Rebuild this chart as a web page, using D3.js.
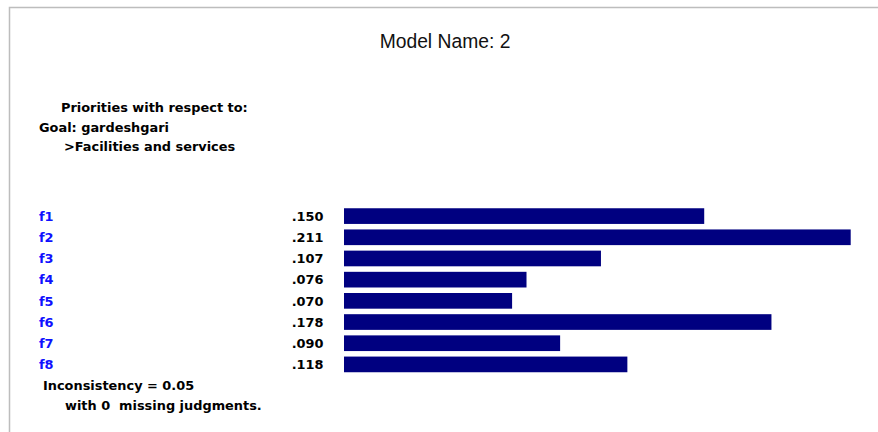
<!DOCTYPE html>
<html><head><meta charset="utf-8">
<script src="https://cdn.jsdelivr.net/npm/d3@7"></script>
<style>body{margin:0;background:#fff}svg{display:block}</style>
</head><body>
<script>
const categories = ["f1","f2","f3","f4","f5","f6","f7","f8"];
const values = [0.150,0.211,0.107,0.076,0.070,0.178,0.090,0.118];
const valueLabels = [".150",".211",".107",".076",".070",".178",".090",".118"];
const title = "Model Name: 2";
const headerLines = ["Priorities with respect to:","Goal: gardeshgari",">Facilities and services"];
const footerLines = ["Inconsistency = 0.05","with 0  missing judgments."];

const W=878,H=432;
const svg=d3.select("body").append("svg").attr("width",W).attr("height",H);
svg.append("path").attr("d",`M9.5,${H}V7.5H${W}`).attr("fill","none").attr("stroke","#bdbdbd").attr("stroke-width",1.5);

svg.append("text").attr("x",445).attr("y",48).attr("text-anchor","middle")
  .attr("font-family","Liberation Sans, Arial, sans-serif").attr("font-size",19.3).attr("fill","#111").text(title);

const bf="DejaVu Sans, sans-serif";
const fs=12.9;
const hx=[61,39,64], hy=[111.5,131.5,150.5];
headerLines.forEach((t,i)=>svg.append("text").attr("x",hx[i]).attr("y",hy[i]).attr("font-family",bf).attr("font-weight","bold").attr("font-size",fs).attr("fill","#000").text(t));

const x=d3.scaleLinear().domain([0,0.211]).range([344,850.7]);
const y=d3.scaleBand().domain(categories).range([205.5,375]).paddingInner(0.26).paddingOuter(0.13);

const g=svg.append("g");
g.selectAll("rect").data(categories).join("rect")
  .attr("x",x(0)).attr("y",d=>y(d)).attr("width",(d,i)=>x(values[i])-x(0)).attr("height",y.bandwidth())
  .attr("fill","#000080");
g.selectAll("text.cat").data(categories).join("text").attr("class","cat")
  .attr("x",39).attr("y",d=>y(d)+y.bandwidth()/2+4.8).attr("font-family",bf).attr("font-weight","bold").attr("font-size",fs).attr("fill","#1010ff").text(d=>d);
g.selectAll("text.val").data(categories).join("text").attr("class","val")
  .attr("x",323.5).attr("text-anchor","end").attr("y",d=>y(d)+y.bandwidth()/2+4.8).attr("font-family",bf).attr("font-weight","bold").attr("font-size",fs).attr("fill","#000").text((d,i)=>valueLabels[i]);

const fx=[43,65], fy=[389.5,410];
footerLines.forEach((t,i)=>svg.append("text").attr("x",fx[i]).attr("y",fy[i]).attr("font-family",bf).attr("font-weight","bold").attr("font-size",fs).attr("fill","#000").style("white-space","pre").text(t));
</script>
</body></html>
